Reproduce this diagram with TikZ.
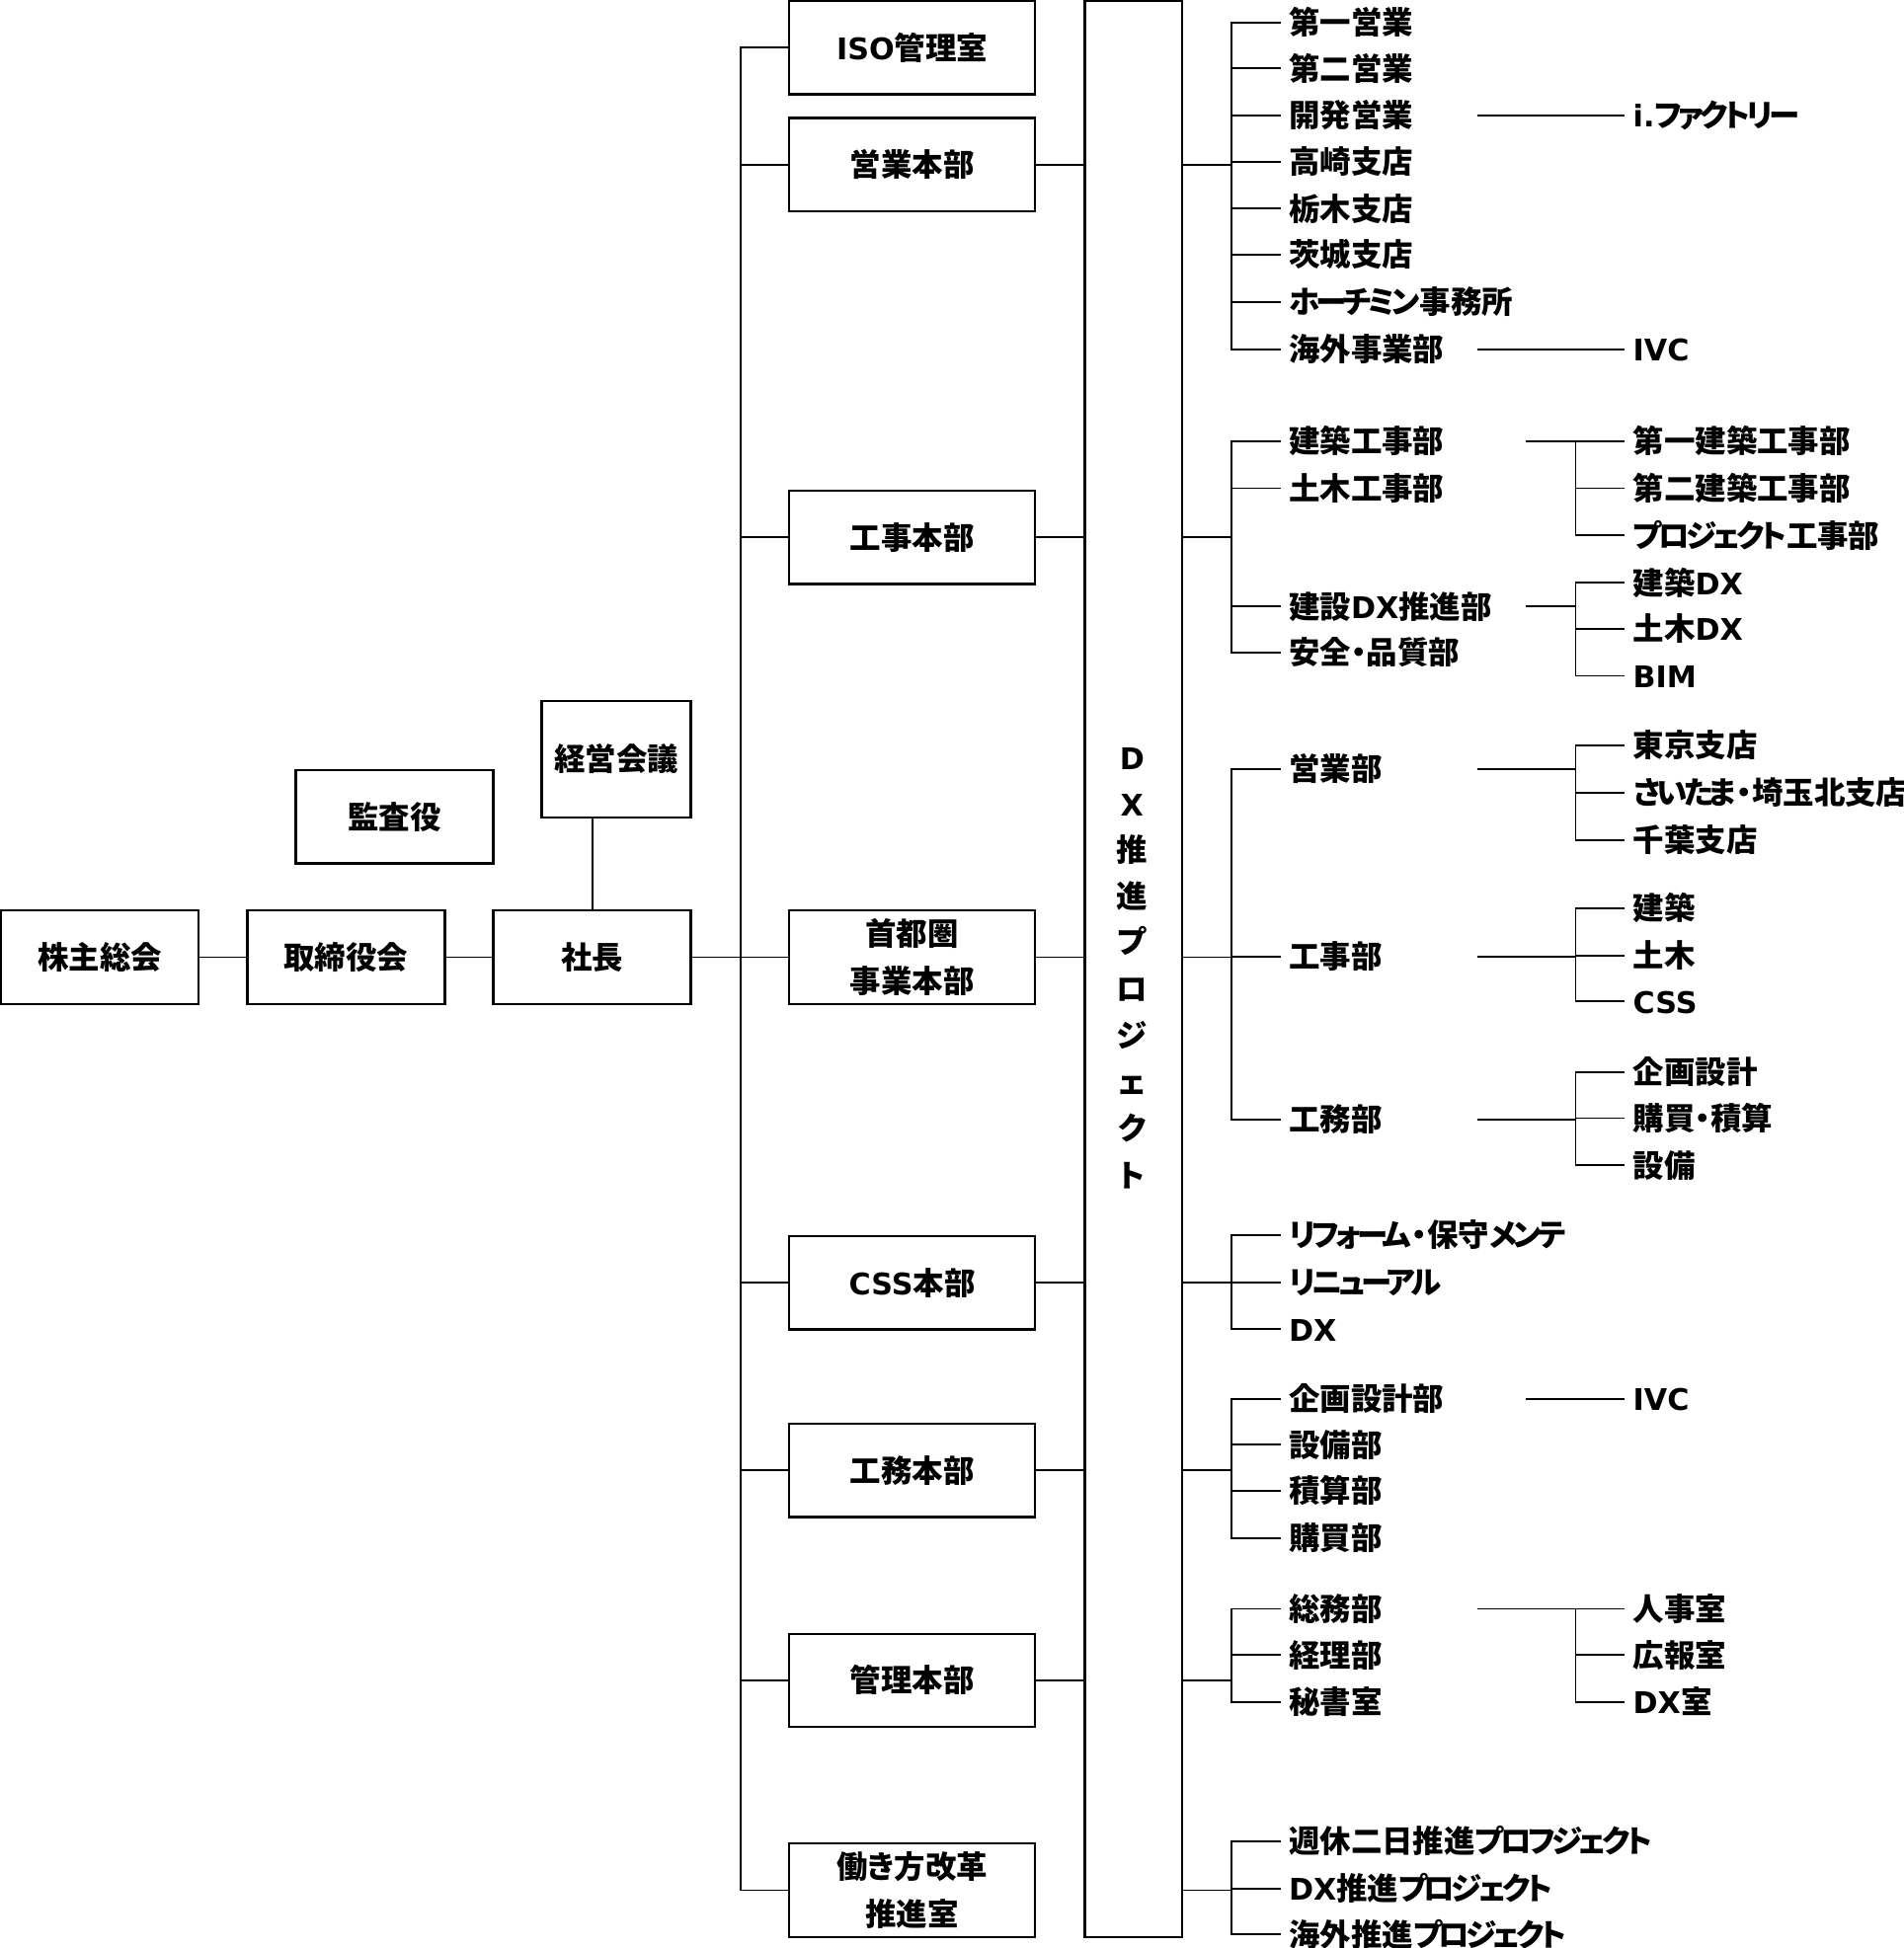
\documentclass[tikz,border=0pt]{standalone}
\usepackage{fontspec}
\setmainfont{Noto Sans CJK JP}[RawFeature={+palt}]
\newfontfamily\latfont{DejaVu Sans}
\newcommand\ltn[1]{{\latfont\bfseries\fontsize{24}{38}\selectfont #1}}
\newcommand\kn[1]{{\addfontfeature{LetterSpace=-12}#1}}
\begin{document}
\begin{tikzpicture}[x=1pt,y=-1pt,
  every node/.style={font=\fontsize{25}{38}\selectfont\bfseries},
  box/.style={draw, line width=1.8pt, minimum width=198pt, minimum height=75pt, inner sep=0pt, text height=22pt, text depth=3pt},
  boxtwo/.style={draw, line width=1.8pt, minimum width=198pt, minimum height=75pt, inner sep=0pt, align=center},
  item/.style={anchor=west, inner xsep=6.5pt, inner ysep=0pt, text height=22pt, text depth=3pt},
  vch/.style={inner sep=0pt, text height=22pt, text depth=3pt},
  ln/.style={line width=1.5pt}]
\useasboundingbox (0,0) rectangle (1532,1568);

% left boxes
\node[box, minimum width=159pt] (kabu) at (80.5,770.5) {株主総会};
\node[box, minimum width=159pt] (tori) at (278.5,770.5) {取締役会};
\node[box, minimum width=159pt] (shacho) at (476.5,770.5) {社長};
\node[box, minimum width=159pt] (kansa) at (317.5,657.5) {監査役};
\node[box, minimum width=120pt, minimum height=94pt] (keiei) at (496,611) {経営会議};

% middle boxes
\node[box] (iso) at (734,38.5) {\ltn{ISO}管理室};
\node[box] (eigyo) at (734,132.5) {営業本部};
\node[box] (koji) at (734,432.5) {工事本部};
\node[boxtwo] (shuto) at (734,770.5) {首都圏\\事業本部};
\node[box] (css) at (734,1032.5) {\ltn{CSS}本部};
\node[box] (komu) at (734,1183.5) {工務本部};
\node[box] (kanri) at (734,1352.5) {管理本部};
\node[boxtwo] (hataraki) at (734,1521.5) {働き方改革\\推進室};

% DX project box
\node[draw, line width=1.8pt, minimum width=78pt, minimum height=1558pt, inner sep=0pt] (dx) at (912,780) {};
\node[vch] (v1) at (911,610) {\ltn{D}};
\node[vch] (v2) at (911,647) {\ltn{X}};
\node[vch] (v3) at (911,684) {推};
\node[vch] (v4) at (911,721) {進};
\node[vch] (v5) at (911,758) {プ};
\node[vch] (v6) at (911,796) {ロ};
\node[vch] (v7) at (911,833) {ジ};
\node[vch] (v8) at (911,871) {ェ};
\node[vch] (v9) at (911,908) {ク};
\node[vch] (v10) at (911,946) {ト};

% group 1
\node[item] (g1a) at (1030.5,18) {第一営業};
\node[item] (g1b) at (1030.5,55) {第二営業};
\node[item] (g1c) at (1030.5,93) {開発営業};
\node[item] (g1d) at (1030.5,130) {高崎支店};
\node[item] (g1e) at (1030.5,168) {栃木支店};
\node[item] (g1f) at (1030.5,205) {茨城支店};
\node[item] (g1g) at (1030.5,243) {\kn{ホーチミン}事務所};
\node[item] (g1h) at (1030.5,281) {海外事業部};
\node[item] (r1c) at (1307.5,93) {\ltn{i.}\kn{ファクトリー}};
\node[item] (r1h) at (1307.5,281) {\ltn{IVC}};

% group 2
\node[item] (g2a) at (1030.5,355) {建築工事部};
\node[item] (g2b) at (1030.5,393) {土木工事部};
\node[item] (g2c) at (1030.5,488) {建設\ltn{DX}推進部};
\node[item] (g2d) at (1030.5,525) {安全・品質部};
\node[item] (r2a) at (1307.5,355) {第一建築工事部};
\node[item] (r2b) at (1307.5,393) {第二建築工事部};
\node[item] (r2c) at (1307.5,431) {\kn{プロジェクト}工事部};
\node[item] (r2d) at (1307.5,469) {建築\ltn{DX}};
\node[item] (r2e) at (1307.5,506) {土木\ltn{DX}};
\node[item] (r2f) at (1307.5,544) {\ltn{BIM}};

% group 3
\node[item] (g3a) at (1030.5,619) {営業部};
\node[item] (g3b) at (1030.5,770) {工事部};
\node[item] (g3c) at (1030.5,901) {工務部};
\node[item] (r3a) at (1307.5,600) {東京支店};
\node[item] (r3b) at (1307.5,638) {\kn{さいたま}・埼玉北支店};
\node[item] (r3c) at (1307.5,676) {千葉支店};
\node[item] (r3d) at (1307.5,731) {建築};
\node[item] (r3e) at (1307.5,769) {土木};
\node[item] (r3f) at (1307.5,806) {\ltn{CSS}};
\node[item] (r3g) at (1307.5,863) {企画設計};
\node[item] (r3h) at (1307.5,900) {購買・積算};
\node[item] (r3i) at (1307.5,938) {設備};

% group 4
\node[item] (g4a) at (1030.5,994) {\kn{リフォーム}・保守\kn{メンテ}};
\node[item] (g4b) at (1030.5,1032) {\kn{リニューアル}};
\node[item] (g4c) at (1030.5,1070) {\ltn{DX}};

% group 5
\node[item] (g5a) at (1030.5,1126) {企画設計部};
\node[item] (g5b) at (1030.5,1163) {設備部};
\node[item] (g5c) at (1030.5,1200) {積算部};
\node[item] (g5d) at (1030.5,1238) {購買部};
\node[item] (r5a) at (1307.5,1126) {\ltn{IVC}};

% group 6
\node[item] (g6a) at (1030.5,1295) {総務部};
\node[item] (g6b) at (1030.5,1332) {経理部};
\node[item] (g6c) at (1030.5,1370) {秘書室};
\node[item] (r6a) at (1307.5,1295) {人事室};
\node[item] (r6b) at (1307.5,1332) {広報室};
\node[item] (r6c) at (1307.5,1370) {\ltn{DX}室};

% group 7
\node[item] (g7a) at (1030.5,1482) {週休二日推進\kn{プロフジェクト}};
\node[item] (g7b) at (1030.5,1520) {\ltn{DX}推進\kn{プロジェクト}};
\node[item] (g7c) at (1030.5,1557) {海外推進\kn{プロジェクト}};

% helper coordinates
\coordinate (trunk) at (596,0);
\coordinate (bx) at (991,0);
\coordinate (kx) at (1189,0);
\coordinate (kxb) at (1228,0);
\coordinate (sx) at (1268,0);

% left connectors
\draw[ln] (kabu) -- (tori);
\draw[ln] (tori) -- (shacho);
\draw[ln] (shacho.north |- keiei.south) -- (shacho.north);
\draw[ln] (shacho.east) -- (trunk |- shacho);
\draw[ln] (iso.west) -- (trunk |- iso) -- (trunk |- hataraki) -- (hataraki.west);
\foreach \n in {eigyo,koji,shuto,css,komu,kanri}
  \draw[ln] (trunk |- \n) -- (\n.west);
\foreach \n in {eigyo,koji,shuto,css,komu,kanri}
  \draw[ln] (\n.east) -- (dx.west |- \n);

% DX box to groups
\foreach \n in {eigyo,koji,shuto,css,komu,kanri,hataraki}
  \draw[ln] (dx.east |- \n) -- (bx |- \n);

% group 1 lines
\draw[ln] (g1a.west) -- (bx |- g1a) -- (bx |- g1h) -- (g1h.west);
\foreach \n in {g1b,g1c,g1d,g1e,g1f,g1g}
  \draw[ln] (bx |- \n) -- (\n.west);
\draw[ln] (kx |- g1c) -- (r1c.west);
\draw[ln] (kx |- g1h) -- (r1h.west);

% group 2 lines
\draw[ln] (g2a.west) -- (bx |- g2a) -- (bx |- g2d) -- (g2d.west);
\foreach \n in {g2b,g2c}
  \draw[ln] (bx |- \n) -- (\n.west);
\draw[ln] (kxb |- g2a) -- (r2a.west);
\draw[ln] (sx |- r2a) -- (sx |- r2c) -- (r2c.west);
\draw[ln] (sx |- r2b) -- (r2b.west);
\draw[ln] (kxb |- g2c) -- (sx |- g2c);
\draw[ln] (r2d.west) -- (sx |- r2d) -- (sx |- r2f) -- (r2f.west);
\draw[ln] (sx |- r2e) -- (r2e.west);

% group 3 lines
\draw[ln] (g3a.west) -- (bx |- g3a) -- (bx |- g3c) -- (g3c.west);
\draw[ln] (bx |- g3b) -- (g3b.west);
\draw[ln] (kx |- g3a) -- (sx |- g3a);
\draw[ln] (r3a.west) -- (sx |- r3a) -- (sx |- r3c) -- (r3c.west);
\draw[ln] (sx |- r3b) -- (r3b.west);
\draw[ln] (kx |- g3b) -- (sx |- g3b);
\draw[ln] (r3d.west) -- (sx |- r3d) -- (sx |- r3f) -- (r3f.west);
\draw[ln] (sx |- r3e) -- (r3e.west);
\draw[ln] (kx |- g3c) -- (sx |- g3c);
\draw[ln] (r3g.west) -- (sx |- r3g) -- (sx |- r3i) -- (r3i.west);
\draw[ln] (sx |- r3h) -- (r3h.west);

% group 4 lines
\draw[ln] (g4a.west) -- (bx |- g4a) -- (bx |- g4c) -- (g4c.west);
\draw[ln] (bx |- g4b) -- (g4b.west);

% group 5 lines
\draw[ln] (g5a.west) -- (bx |- g5a) -- (bx |- g5d) -- (g5d.west);
\foreach \n in {g5b,g5c}
  \draw[ln] (bx |- \n) -- (\n.west);
\draw[ln] (kxb |- g5a) -- (r5a.west);

% group 6 lines
\draw[ln] (g6a.west) -- (bx |- g6a) -- (bx |- g6c) -- (g6c.west);
\draw[ln] (bx |- g6b) -- (g6b.west);
\draw[ln] (kx |- g6a) -- (r6a.west);
\draw[ln] (sx |- r6a) -- (sx |- r6c) -- (r6c.west);
\draw[ln] (sx |- r6b) -- (r6b.west);

% group 7 lines
\draw[ln] (g7a.west) -- (bx |- g7a) -- (bx |- g7c) -- (g7c.west);
\draw[ln] (bx |- g7b) -- (g7b.west);
\end{tikzpicture}
\end{document}
